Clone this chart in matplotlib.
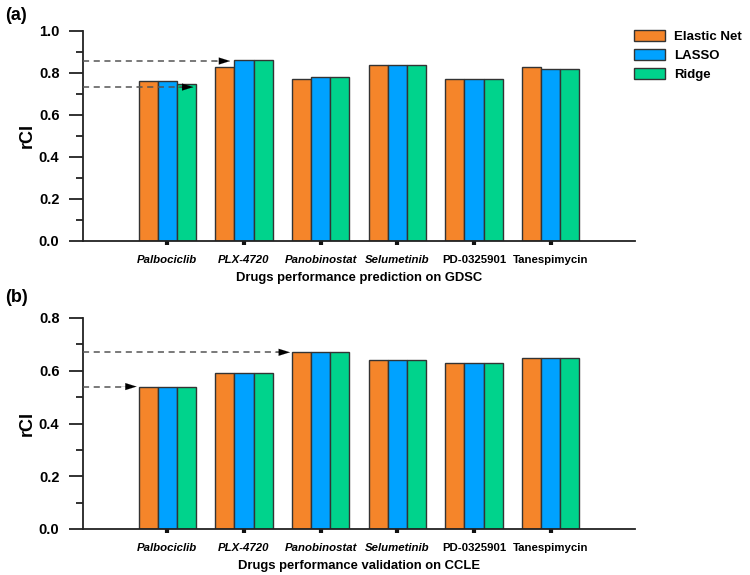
import matplotlib
matplotlib.use("Agg")
import matplotlib.pyplot as plt
import numpy as np

plt.rcParams['font.family'] = ['Liberation Sans', 'DejaVu Sans']
plt.rcParams['font.weight'] = 'bold'

drugs = ["Palbociclib", "PLX-4720", "Panobinostat", "Selumetinib", "PD-0325901", "Tanespimycin"]
italic_drug = [True, True, True, True, False, False]
methods = ["Elastic Net", "LASSO", "Ridge"]
colors = ["#F5852A", "#00A2FF", "#00D38C"]

# GDSC (a)
gdsc_en = [0.76, 0.83, 0.77, 0.84, 0.77, 0.83]
gdsc_lasso = [0.76, 0.86, 0.78, 0.84, 0.77, 0.82]
gdsc_ridge = [0.75, 0.86, 0.78, 0.84, 0.77, 0.82]

# CCLE (b)
ccle_en = [0.54, 0.59, 0.67, 0.64, 0.63, 0.65]
ccle_lasso = [0.54, 0.59, 0.67, 0.64, 0.63, 0.65]
ccle_ridge = [0.54, 0.59, 0.67, 0.64, 0.63, 0.65]

# dashed arrows: (level, x end in group units)
gdsc_arrows = [(0.857, 0.82), (0.733, 0.34)]
ccle_arrows = [(0.67, 1.6), (0.54, -0.4)]

fig = plt.figure(figsize=(7.5, 5.75), dpi=100)
ax1 = fig.add_axes([83/750, 1-241/575, 552/750, 210/575])
ax2 = fig.add_axes([83/750, 1-529/575, 552/750, 211/575])

x = np.arange(len(drugs))
w = 0.25
xmin = -1.1


def draw(ax, series, ymax, arrows, xlabel):
    for i, vals in enumerate(series):
        ax.bar(x + (i-1)*w, vals, width=w, color=colors[i], edgecolor='#333333',
               linewidth=1.0, label=methods[i], zorder=2)
    ax.set_xlim(xmin, len(drugs) - 1 + 1.1)
    ax.set_ylim(0, ymax)
    ax.spines['top'].set_visible(False)
    ax.spines['right'].set_visible(False)
    for s in ['left', 'bottom']:
        ax.spines[s].set_linewidth(1.3)
        ax.spines[s].set_color('#222222')
    ax.set_yticks(np.arange(0, ymax + 0.01, 0.2))
    ax.set_yticks(np.arange(0.1, ymax, 0.2), minor=True)
    ax.set_yticklabels(["%.1f" % v for v in np.arange(0, ymax + 0.01, 0.2)], fontsize=10.5, fontweight='bold')
    ax.tick_params(axis='y', which='major', length=10, width=1.3, pad=7, color='#222222')
    ax.tick_params(axis='y', which='minor', length=5, width=1.3, color='#222222')
    ax.set_xticks(x)
    ax.set_xticklabels(drugs, fontsize=8.2, fontweight='bold')
    for lab, it in zip(ax.get_xticklabels(), italic_drug):
        if it:
            lab.set_style('italic')
    ax.tick_params(axis='x', length=3, width=3, pad=7, color='#111111')
    ax.set_ylabel("rCI", fontsize=13, fontweight='bold', labelpad=2)
    ax.set_xlabel(xlabel, fontsize=9.4, fontweight='bold', labelpad=5)
    for lvl, xe in arrows:
        ax.plot([xmin, xe - 0.12], [lvl, lvl], linestyle=(0, (4, 3)), color='#555555',
                linewidth=1.1, clip_on=False, zorder=3)
        ax.annotate("", xy=(xe, lvl), xytext=(xe - 0.2, lvl),
                    arrowprops=dict(arrowstyle='-|>,head_length=0.8,head_width=0.25',
                                    color='black', linewidth=0.1, shrinkA=0, shrinkB=0),
                    zorder=4)


draw(ax1, [gdsc_en, gdsc_lasso, gdsc_ridge], 1.0, gdsc_arrows, "Drugs performance prediction on GDSC")
draw(ax2, [ccle_en, ccle_lasso, ccle_ridge], 0.8, ccle_arrows, "Drugs performance validation on CCLE")

handles, labels = ax1.get_legend_handles_labels()
fig.legend(handles, labels, loc='upper left', bbox_to_anchor=(629/750, 1-25/575),
           frameon=False, fontsize=9.5, handlelength=2.3, handleheight=0.9,
           labelspacing=0.45, handletextpad=0.7, borderaxespad=0)

fig.text(5/750, 1-15/575, "(a)", fontsize=13, fontweight='bold', va='center')
fig.text(5/750, 1-297/575, "(b)", fontsize=13, fontweight='bold', va='center')

plt.savefig("out.png", dpi=100)
